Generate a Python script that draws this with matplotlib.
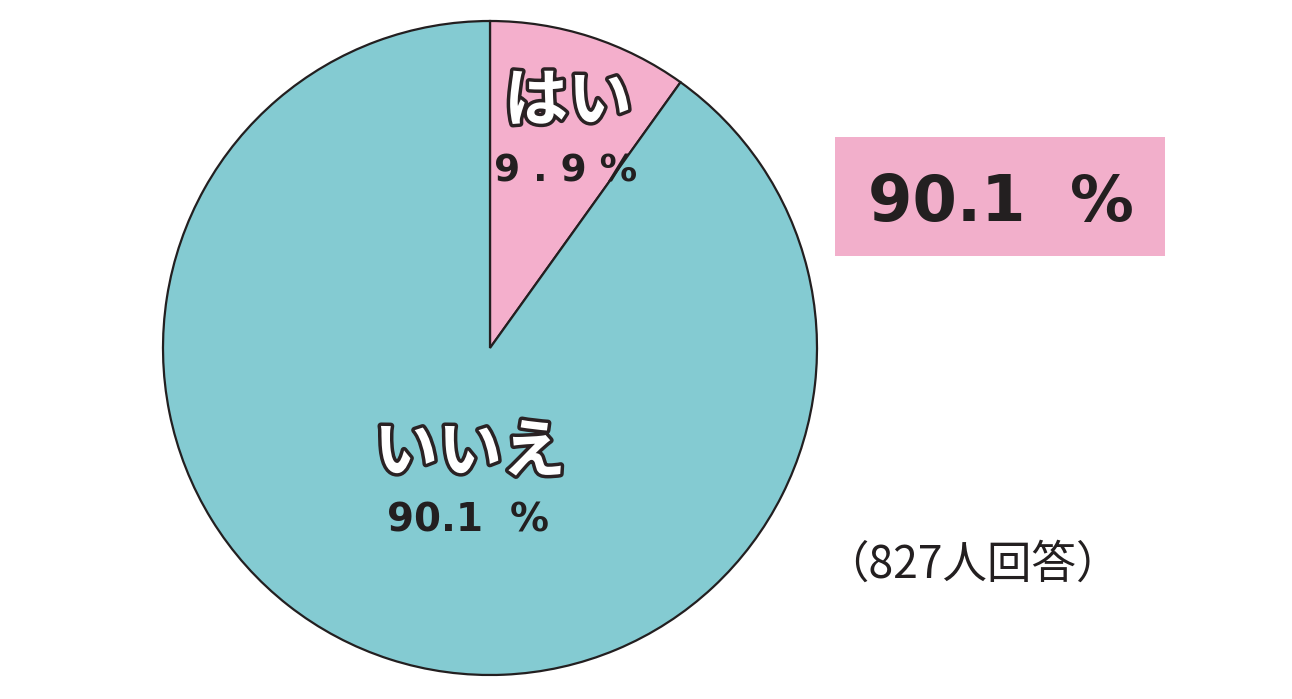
import matplotlib.pyplot as plt
import matplotlib.patheffects as pe
from matplotlib.patches import Rectangle

plt.rcParams['font.family'] = ['Noto Sans CJK JP', 'DejaVu Sans']

labels = ['はい', 'いいえ']
shares = [9.9, 90.1]
colors = ['#f4afcc', '#84cbd2']
highlight = 90.1
note = '（827人回答）'


def pct(v, gap=' '):
    # the original uses a wide, loosely spaced digit face
    return f'{v}{gap}%'


W, H = 1292, 699
fig = plt.figure(figsize=(W / 100, H / 100), dpi=100)
ax = fig.add_axes([0, 0, 1, 1])

cx, cy, r = 490, H - 348, 327
ax.pie(shares, colors=colors, startangle=90, counterclock=False,
       center=(cx, cy), radius=r, frame=True,
       wedgeprops=dict(edgecolor='#231f20', linewidth=1.6))
ax.set_xlim(0, W)
ax.set_ylim(0, H)
ax.set_aspect('equal')
ax.axis('off')

outline = [pe.withStroke(linewidth=5, foreground='#2a2224')]
num = dict(family='DejaVu Sans', fontweight='bold', color='#231f20',
           ha='center', va='center')

# はい
ax.text(568, H - 102, labels[0], ha='center', va='center', fontsize=46,
        fontweight='bold', color='white', path_effects=outline)
ax.text(566, H - 171, pct(shares[0]).replace('.', ' . '), fontsize=27, **num)

# いいえ
ax.text(470, H - 453, labels[1], ha='center', va='center', fontsize=46,
        fontweight='bold', color='white', path_effects=outline)
ax.text(468, H - 520, pct(shares[1], '  '), fontsize=28, **num)

# highlight box
ax.add_patch(Rectangle((835, H - 256), 330, 119, facecolor='#f2afcb',
                       edgecolor='none'))
ax.text(1001, H - 203, pct(highlight, '  '), fontsize=46, **num)

ax.text(972, H - 565, note, ha='center', va='center', fontsize=32,
        color='#231f20')

fig.savefig('out.png', dpi=100)
